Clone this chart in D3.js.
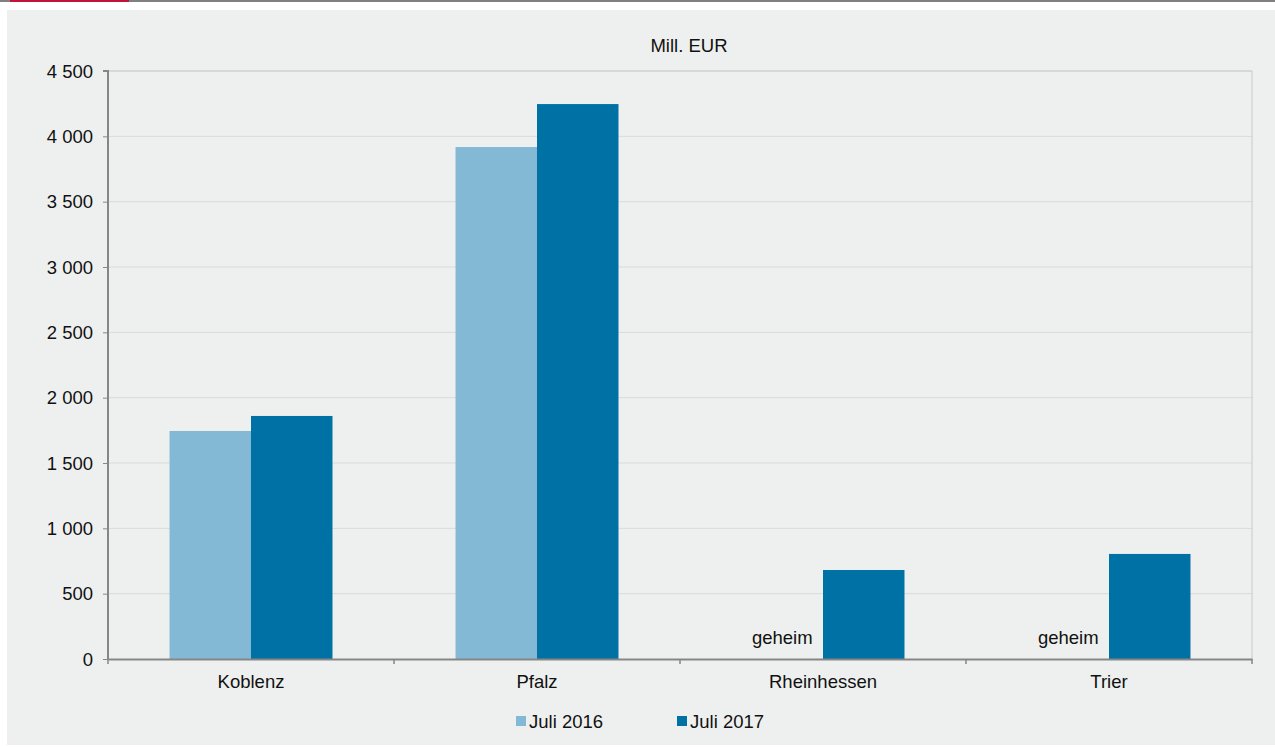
<!DOCTYPE html>
<html><head><meta charset="utf-8">
<script src="https://cdn.jsdelivr.net/npm/d3@7"></script>
<style>body{margin:0;background:#fff;}svg{display:block;font-family:"Liberation Sans",Arial,sans-serif;}</style>
</head><body>
<svg id="c" width="1275" height="747"></svg>
<script>
const categories = ["Koblenz","Pfalz","Rheinhessen","Trier"];
const seriesNames = ["Juli 2016","Juli 2017"];
const values2016 = [1745, 3918, null, null];
const values2017 = [1860, 4247, 681, 804];
const yTicks = [0,500,1000,1500,2000,2500,3000,3500,4000,4500];
const secretLabel = "geheim";
const unitLabel = "Mill. EUR";
const colors = ["#83b9d5","#0071a4"];

const svg = d3.select("#c");
// header lines
svg.append("rect").attr("x",0).attr("y",0).attr("width",1275).attr("height",2).attr("fill","#808080");
svg.append("rect").attr("x",10).attr("y",0).attr("width",119).attr("height",2).attr("fill","#c0143c");
// panel
svg.append("rect").attr("x",7).attr("y",10).attr("width",1268).attr("height",735).attr("fill","#eef0ef");

const m = {l:108, r:1252, t:71, b:659};
const x = d3.scaleBand().domain(categories).range([m.l,m.r]).paddingInner(0).paddingOuter(0);
const x1 = d3.scaleBand().domain(seriesNames).range([0,x.bandwidth()]).paddingInner(0).paddingOuter(0.755);
const y = d3.scaleLinear().domain([0,4500]).range([m.b,m.t]);

// grid
svg.append("g").selectAll("line").data(yTicks.filter(d=>d>0)).join("line")
  .attr("x1",m.l).attr("x2",m.r).attr("y1",d=>y(d)).attr("y2",d=>y(d))
  .attr("stroke",d=>d===4500?"#c0c0c0":"#d9d9d9").attr("stroke-width",1);
svg.append("line").attr("x1",m.r).attr("x2",m.r).attr("y1",m.t).attr("y2",m.b).attr("stroke","#c8c8c8");

// bars
const data = categories.map((c,i)=>({c, vals:[values2016[i], values2017[i]]}));
const g = svg.append("g");
data.forEach(d=>{
  d.vals.forEach((v,j)=>{
    const bx = x(d.c)+x1(seriesNames[j]);
    if(v==null){
      g.append("text").attr("x",bx+x1.bandwidth()/2).attr("y",m.b-15).attr("text-anchor","middle")
        .attr("font-size",18.5).attr("fill","#111").text(secretLabel);
    } else {
      g.append("rect").attr("x",bx).attr("y",y(v)).attr("width",x1.bandwidth()).attr("height",m.b-y(v))
        .attr("fill",colors[j]);
    }
  });
});

// axes
const ya = d3.axisLeft(y).tickValues(yTicks).tickSize(5).tickFormat(d=>d3.format(",")(d).replace(/,/g," "));
const yg = svg.append("g").attr("transform",`translate(${m.l},0)`).call(ya);
yg.select(".domain").attr("stroke","#868686").attr("stroke-width",2).attr("d",`M-5,${m.t}H0V${m.b}`);
yg.selectAll(".tick line").attr("stroke","#868686");
yg.selectAll(".tick text").attr("font-size",18.5).attr("fill","#111").attr("x",-15).attr("dy","0.34em");

const xa = d3.axisBottom(x).tickSize(0).tickSizeOuter(0);
const xg = svg.append("g").attr("transform",`translate(0,${m.b})`).call(xa);
xg.select(".domain").attr("stroke","#868686").attr("stroke-width",2);
xg.selectAll(".tick text").attr("font-size",18.5).attr("fill","#111").attr("y",16).attr("dy","0.71em");
xg.selectAll(".tick line").remove();
const bounds = categories.map(c=>x(c)).concat([m.r]);
svg.append("g").selectAll("line").data(bounds).join("line")
  .attr("x1",d=>d).attr("x2",d=>d).attr("y1",m.b).attr("y2",m.b+5).attr("stroke","#868686").attr("stroke-width",1.5);

// title
svg.append("text").attr("x",689).attr("y",52).attr("text-anchor","middle").attr("font-size",18.5).attr("fill","#111").text(unitLabel);

// legend
const lg = svg.append("g");
const lx = [516, 677];
seriesNames.forEach((s,i)=>{
  lg.append("rect").attr("x",lx[i]).attr("y",716).attr("width",10).attr("height",10).attr("fill",colors[i]);
  lg.append("text").attr("x",lx[i]+13).attr("y",728).attr("font-size",18.5).attr("fill","#111").text(s);
});
</script>
</body></html>
